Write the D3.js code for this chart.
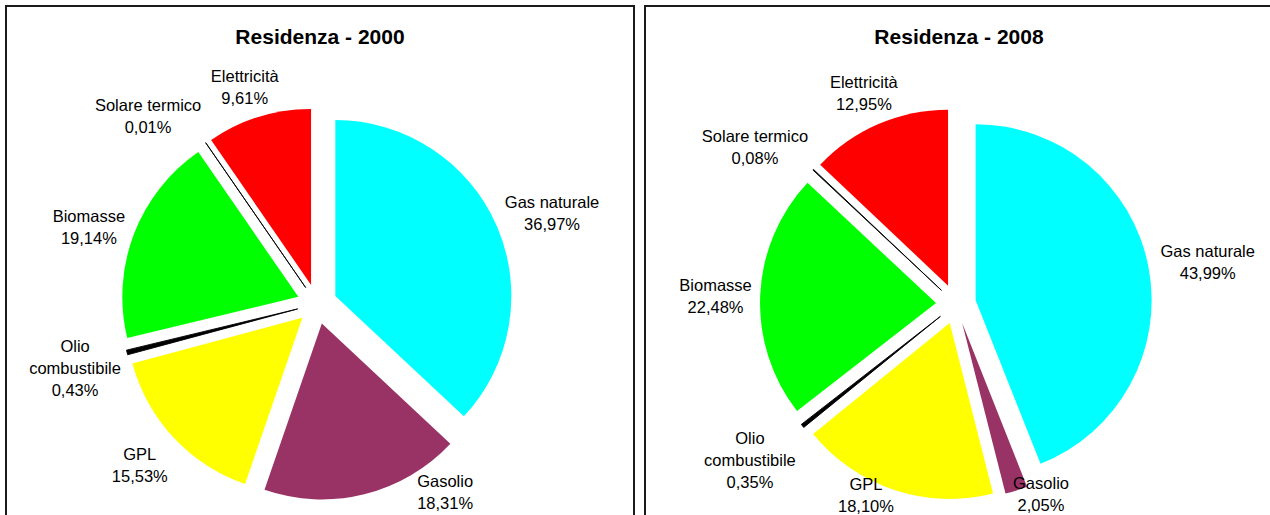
<!DOCTYPE html>
<html>
<head>
<meta charset="utf-8">
<script src="https://cdn.jsdelivr.net/npm/d3@7"></script>
<style>
  html, body { margin: 0; padding: 0; background: #fff; }
  svg { display: block; }
</style>
</head>
<body>
<svg id="chart" width="1270" height="515"></svg>
<script>
// ---- data ----
const categories = ["Gas naturale", "Gasolio", "GPL", "Olio combustibile", "Biomasse", "Solare termico", "Elettricità"];
const labelLines = [["Gas naturale"], ["Gasolio"], ["GPL"], ["Olio", "combustibile"], ["Biomasse"], ["Solare termico"], ["Elettricità"]];
const values2000 = [36.97, 18.31, 15.53, 0.43, 19.14, 0.01, 9.61];
const values2008 = [43.99, 2.05, 18.10, 0.35, 22.48, 0.08, 12.95];
const titles = ["Residenza - 2000", "Residenza - 2008"];

// ---- styles / layout ----
const colors = ["#00FFFF", "#993366", "#FFFF00", "#000000", "#00FF00", "#000000", "#FF0000"];
const panelW = 628, panelH = 540, panelTop = 6;
const panelLefts = [6, 645];
const radius = 176, explode = 20, labelGap = 13;
const fontSize = 16.5, lineH = 22;
// Excel-like manual label adjustments (dx, dy) per slice
const labelNudge = [
  [[0, 1], [71, -36], [-4, 4], [5, 4], [1, 6], [-20, 2], [0, 4]],
  [[0, 2], [12, -30], [-15.5, -28], [-6.5, 6], [4.5, 3], [-10, 1], [4, 1]]
];

const svg = d3.select("#chart");
const fmt = v => d3.format(".2f")(v).replace(".", ",") + "%";
const pie = d3.pie().sort(null).value(d => d);
const arc = d3.arc().innerRadius(0).outerRadius(radius);

[values2000, values2008].forEach((vals, k) => {
  const px = panelLefts[k];
  const g = svg.append("g");
  g.append("rect")
    .attr("x", px).attr("y", panelTop)
    .attr("width", panelW).attr("height", panelH)
    .attr("fill", "#fff").attr("stroke", "#1a1a1a").attr("stroke-width", 2);

  g.append("text")
    .attr("x", px + panelW / 2).attr("y", 43.5)
    .attr("text-anchor", "middle")
    .attr("font-family", "Liberation Sans, Arial, sans-serif")
    .attr("font-weight", "bold").attr("font-size", 21)
    .text(titles[k]);

  const cx = px + 311, cy = 304;
  const pg = g.append("g").attr("transform", `translate(${cx},${cy})`);
  const arcs = pie(vals);

  pg.selectAll("path").data(arcs).enter().append("path")
    .attr("transform", d => {
      const m = (d.startAngle + d.endAngle) / 2;
      return `translate(${Math.sin(m) * explode},${-Math.cos(m) * explode})`;
    })
    .attr("d", arc)
    .attr("fill", (d, i) => colors[i])
    .attr("stroke", (d, i) => vals[i] < 1 ? colors[i] : "none")
    .attr("stroke-width", (d, i) => vals[i] < 1 ? 0.9 : 0);

  // labels
  arcs.forEach((d, i) => {
    const lines = labelLines[i].concat([fmt(vals[i])]);
    const t = g.append("text")
      .attr("text-anchor", "middle")
      .attr("font-family", "Liberation Sans, Arial, sans-serif")
      .attr("font-size", fontSize)
      .attr("fill", "#000");
    const spans = lines.map(s => t.append("tspan").text(s));
    let w = 0;
    spans.forEach(s => { w = Math.max(w, s.node().getComputedTextLength()); });
    const h = lines.length * lineH;
    const m = (d.startAngle + d.endAngle) / 2;
    const sx = Math.sin(m), sy = -Math.cos(m);
    const R = radius + explode + labelGap;
    const ax = cx + sx * R, ay = cy + sy * R;
    const lx = ax + sx * w / 2 + labelNudge[k][i][0];
    const ly = ay + sy * h / 2 + labelNudge[k][i][1];
    spans.forEach((s, j) => {
      s.attr("x", lx).attr("y", ly - h / 2 + lineH * (j + 0.5) + fontSize * 0.35);
    });
  });
});
</script>
</body>
</html>
